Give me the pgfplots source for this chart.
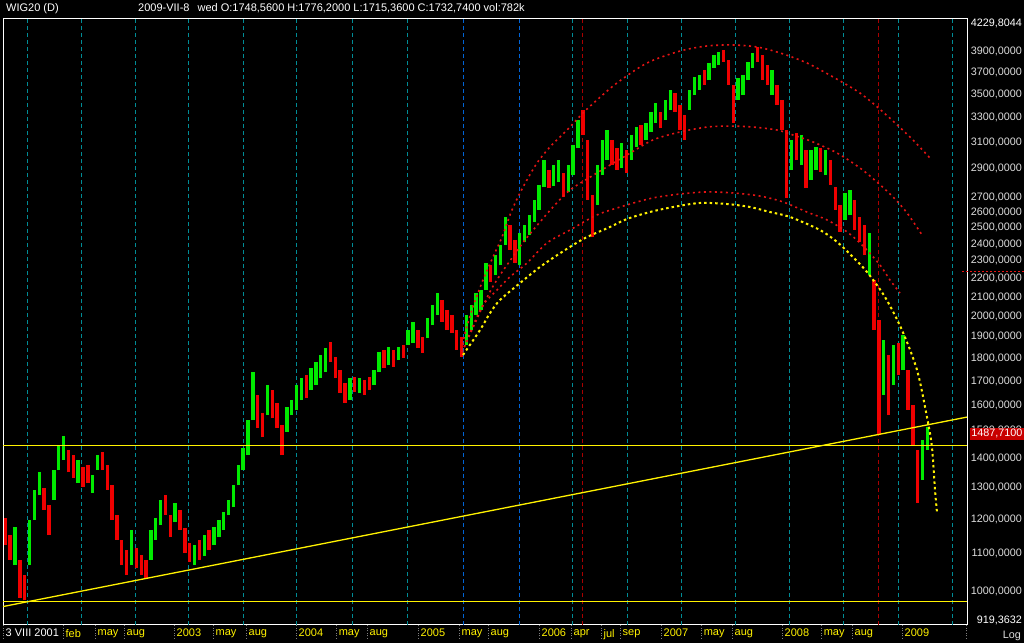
\documentclass[border=0pt]{standalone}
\usepackage{fontspec}
\setmainfont{Liberation Sans}
\usepackage{pgfplots}
\pgfplotsset{compat=1.18}

\definecolor{candleup}{RGB}{0,235,0}
\definecolor{candledn}{RGB}{240,0,0}
\definecolor{gridteal}{RGB}{0,140,150}
\definecolor{gridblue}{RGB}{0,100,215}
\definecolor{gridred}{RGB}{170,0,0}
\definecolor{arcred}{RGB}{230,20,20}
\definecolor{lbl}{RGB}{222,222,222}
\definecolor{boxred}{RGB}{200,0,0}

\pgfplotsset{
  candles/.style={forget plot, line width=3.4pt, unbounded coords=jump, #1},
  vline/.style={forget plot, line width=0.8pt, dash pattern=on 4pt off 3pt, #1},
  arc/.style={forget plot, line width=1.6pt, dash pattern=on 2pt off 3.5pt, smooth, #1},
}

\begin{document}
\begin{tikzpicture}
\useasboundingbox (0pt,0pt) rectangle (1024pt,643pt);
\fill[black] (0pt,0pt) rectangle (1024pt,643pt);
\begin{axis}[
  at={(3pt,18pt)}, anchor=south west,
  scale only axis, width=964pt, height=606pt,
  xmin=2001.591, xmax=2009.536,
  ymode=log, ymin=919.3632, ymax=4229.8044,
  axis line style={white, line width=1pt},
  % --- time axis: labels start right of a dotted grey tick
  xtick pos=bottom, ytick pos=right,
  xtick={2001.591,2002.085,2002.349,2002.588,2003.000,2003.321,2003.594,
         2004.006,2004.336,2004.591,2005.011,2005.349,2005.588,2006.008,
         2006.272,2006.519,2006.676,2007.014,2007.344,2007.599,2008.011,
         2008.333,2008.588,2009.000,2009.53},
  xticklabels={{\color{white}3 VIII 2001},feb,may,aug,2003,may,aug,2004,may,aug,
               2005,may,aug,2006,apr,jul,sep,2007,may,aug,2008,may,aug,2009,{}},
  tick align=outside, major tick length=14pt,
  xtick style={gray, line width=0.7pt, dash pattern=on 1pt off 1.5pt},
  xticklabel style={anchor=north west, text=yellow, inner sep=0pt,
    font=\fontsize{11}{12}\selectfont, xshift=2.5pt, yshift=10pt},
  % --- log price axis on the right
  ytick={1000,1100,1200,1300,1400,1500,1600,1700,1800,1900,2000,2100,2200,
         2300,2400,2500,2600,2700,2900,3100,3300,3500,3700,3900},
  yticklabels={{1000,0000},{1100,0000},{1200,0000},{1300,0000},{1400,0000},
    {1500,0000},{1600,0000},{1700,0000},{1800,0000},{1900,0000},{2000,0000},
    {2100,0000},{2200,0000},{2300,0000},{2400,0000},{2500,0000},{2600,0000},
    {2700,0000},{2900,0000},{3100,0000},{3300,0000},{3500,0000},{3700,0000},
    {3900,0000}},
  yticklabel pos=right, ytick style={draw=none},
  yticklabel style={anchor=east, inner sep=0pt, xshift=41pt, text=lbl,
    font=\fontsize{10.8}{12}\selectfont},
]
% vertical cycle lines
\pgfplotsinvokeforeach{2001.789,2002.234,2002.679,2003.116,2003.569,2004.006,
  2004.467,2004.921,2006.280,2006.734,2007.179,2007.624,2008.069,2008.514,
  2008.967,2009.412}{
  \addplot[vline=gridteal] coordinates {(#1,919.3632) (#1,4229.8044)};
}
\pgfplotsinvokeforeach{2005.382,2005.844}{
  \addplot[vline=gridblue] coordinates {(#1,919.3632) (#1,4229.8044)};
}
\pgfplotsinvokeforeach{2006.363,2008.803}{
  \addplot[vline=gridred] coordinates {(#1,919.3632) (#1,4229.8044)};
}

% WIG20 price bars, low -> high, sampled about every two weeks
% rising bars
\addplot[candles=candleup] coordinates {
(2001.69,1069)(2001.69,1177)(2001.69,nan) (2001.81,1069)(2001.81,1198)(2001.81,nan)
(2001.85,1198)(2001.85,1292)(2001.85,nan) (2001.89,1275)(2001.89,1351)(2001.89,nan)
(2002.01,1259)(2002.01,1358)(2002.01,nan) (2002.05,1358)(2002.05,1447)(2002.05,nan)
(2002.09,1393)(2002.09,1480)(2002.09,nan) (2002.21,1314)(2002.21,1393)(2002.21,nan)
(2002.33,1282)(2002.33,1341)(2002.33,nan) (2002.37,1358)(2002.37,1411)(2002.37,nan)
(2002.65,1069)(2002.65,1168)(2002.65,nan) (2002.81,1083)(2002.81,1168)(2002.81,nan)
(2002.85,1139)(2002.85,1204)(2002.85,nan) (2002.89,1183)(2002.89,1259)(2002.89,nan)
(2003.01,1191)(2003.01,1250)(2003.01,nan) (2003.17,1069)(2003.17,1124)(2003.17,nan)
(2003.25,1094)(2003.25,1153)(2003.25,nan) (2003.33,1124)(2003.33,1177)(2003.33,nan)
(2003.37,1147)(2003.37,1198)(2003.37,nan) (2003.41,1168)(2003.41,1222)(2003.41,nan)
(2003.45,1213)(2003.45,1259)(2003.45,nan) (2003.49,1237)(2003.49,1308)(2003.49,nan)
(2003.53,1308)(2003.53,1375)(2003.53,nan) (2003.57,1358)(2003.57,1436)(2003.57,nan)
(2003.61,1411)(2003.61,1540)(2003.61,nan) (2003.65,1540)(2003.65,1738)(2003.65,nan)
(2003.77,1560)(2003.77,1682)(2003.77,nan) (2003.93,1495)(2003.93,1592)(2003.93,nan)
(2003.97,1560)(2003.97,1620)(2003.97,nan) (2004.01,1580)(2004.01,1682)(2004.01,nan)
(2004.05,1620)(2004.05,1712)(2004.05,nan) (2004.13,1661)(2004.13,1756)(2004.13,nan)
(2004.17,1682)(2004.17,1783)(2004.17,nan) (2004.21,1712)(2004.21,1815)(2004.21,nan)
(2004.25,1738)(2004.25,1847)(2004.25,nan) (2004.45,1620)(2004.45,1712)(2004.45,nan)
(2004.53,1649)(2004.53,1712)(2004.53,nan) (2004.65,1682)(2004.65,1747)(2004.65,nan)
(2004.69,1738)(2004.69,1828)(2004.69,nan) (2004.77,1769)(2004.77,1851)(2004.77,nan)
(2004.85,1792)(2004.85,1851)(2004.85,nan) (2004.93,1861)(2004.93,1932)(2004.93,nan)
(2004.97,1870)(2004.97,1972)(2004.97,nan) (2005.09,1894)(2005.09,1992)(2005.09,nan)
(2005.13,1957)(2005.13,2058)(2005.13,nan) (2005.17,2007)(2005.17,2121)(2005.17,nan)
(2005.41,1861)(2005.41,2007)(2005.41,nan) (2005.45,1932)(2005.45,2058)(2005.45,nan)
(2005.49,2007)(2005.49,2121)(2005.49,nan) (2005.53,2032)(2005.53,2137)(2005.53,nan)
(2005.57,2137)(2005.57,2288)(2005.57,nan) (2005.65,2220)(2005.65,2334)(2005.65,nan)
(2005.69,2276)(2005.69,2394)(2005.69,nan) (2005.73,2394)(2005.73,2569)(2005.73,nan)
(2005.85,2276)(2005.85,2467)(2005.85,nan) (2005.89,2412)(2005.89,2518)(2005.89,nan)
(2005.93,2455)(2005.93,2582)(2005.93,nan) (2005.97,2537)(2005.97,2681)(2005.97,nan)
(2006.01,2615)(2006.01,2784)(2006.01,nan) (2006.05,2770)(2006.05,2965)(2006.05,nan)
(2006.13,2777)(2006.13,2928)(2006.13,nan) (2006.17,2805)(2006.17,2965)(2006.17,nan)
(2006.25,2736)(2006.25,2928)(2006.25,nan) (2006.29,2855)(2006.29,3080)(2006.29,nan)
(2006.33,3056)(2006.33,3280)(2006.33,nan) (2006.49,2648)(2006.49,2928)(2006.49,nan)
(2006.53,2855)(2006.53,3119)(2006.53,nan) (2006.57,2965)(2006.57,3198)(2006.57,nan)
(2006.69,2906)(2006.69,3095)(2006.69,nan) (2006.77,2965)(2006.77,3158)(2006.77,nan)
(2006.81,3064)(2006.81,3222)(2006.81,nan) (2006.89,3119)(2006.89,3255)(2006.89,nan)
(2006.93,3182)(2006.93,3346)(2006.93,nan) (2006.97,3255)(2006.97,3423)(2006.97,nan)
(2007.05,3280)(2007.05,3449)(2007.05,nan) (2007.09,3363)(2007.09,3537)(2007.09,nan)
(2007.25,3363)(2007.25,3537)(2007.25,nan) (2007.29,3493)(2007.29,3655)(2007.29,nan)
(2007.33,3537)(2007.33,3673)(2007.33,nan) (2007.41,3627)(2007.41,3786)(2007.41,nan)
(2007.45,3739)(2007.45,3863)(2007.45,nan) (2007.49,3767)(2007.49,3892)(2007.49,nan)
(2007.65,3449)(2007.65,3646)(2007.65,nan) (2007.69,3493)(2007.69,3673)(2007.69,nan)
(2007.73,3627)(2007.73,3796)(2007.73,nan) (2007.77,3739)(2007.77,3883)(2007.77,nan)
(2007.93,3493)(2007.93,3720)(2007.93,nan) (2008.09,2892)(2008.09,3119)(2008.09,nan)
(2008.17,2928)(2008.17,3158)(2008.17,nan) (2008.25,2820)(2008.25,3041)(2008.25,nan)
(2008.29,2892)(2008.29,3064)(2008.29,nan) (2008.37,2855)(2008.37,3041)(2008.37,nan)
(2008.53,2550)(2008.53,2729)(2008.53,nan) (2008.57,2582)(2008.57,2750)(2008.57,nan)
(2008.73,2220)(2008.73,2467)(2008.73,nan) (2008.85,1641)(2008.85,1884)(2008.85,nan)
(2008.93,1682)(2008.93,1861)(2008.93,nan) (2009.01,1747)(2009.01,1908)(2009.01,nan)
(2009.17,1325)(2009.17,1465)(2009.17,nan) (2009.21,1428)(2009.21,1514)(2009.21,nan)
};
% falling bars
\addplot[candles=candledn] coordinates {
(2001.61,1124)(2001.61,1204)(2001.61,nan) (2001.65,1083)(2001.65,1153)(2001.65,nan)
(2001.73,984)(2001.73,1083)(2001.73,nan) (2001.77,979)(2001.77,1043)(2001.77,nan)
(2001.93,1228)(2001.93,1298)(2001.93,nan) (2001.97,1153)(2001.97,1244)(2001.97,nan)
(2002.13,1351)(2002.13,1428)(2002.13,nan) (2002.17,1331)(2002.17,1411)(2002.17,nan)
(2002.25,1301)(2002.25,1369)(2002.25,nan) (2002.29,1314)(2002.29,1375)(2002.29,nan)
(2002.41,1358)(2002.41,1421)(2002.41,nan) (2002.45,1292)(2002.45,1375)(2002.45,nan)
(2002.49,1198)(2002.49,1308)(2002.49,nan) (2002.53,1139)(2002.53,1213)(2002.53,nan)
(2002.57,1069)(2002.57,1139)(2002.57,nan) (2002.61,1043)(2002.61,1110)(2002.61,nan)
(2002.69,1061)(2002.69,1116)(2002.69,nan) (2002.73,1043)(2002.73,1096)(2002.73,nan)
(2002.77,1035)(2002.77,1083)(2002.77,nan) (2002.93,1213)(2002.93,1275)(2002.93,nan)
(2002.97,1147)(2002.97,1213)(2002.97,nan) (2003.05,1168)(2003.05,1228)(2003.05,nan)
(2003.09,1102)(2003.09,1174)(2003.09,nan) (2003.13,1077)(2003.13,1130)(2003.13,nan)
(2003.21,1083)(2003.21,1139)(2003.21,nan) (2003.29,1110)(2003.29,1168)(2003.29,nan)
(2003.69,1510)(2003.69,1641)(2003.69,nan) (2003.73,1476)(2003.73,1568)(2003.73,nan)
(2003.81,1548)(2003.81,1661)(2003.81,nan) (2003.85,1510)(2003.85,1608)(2003.85,nan)
(2003.89,1411)(2003.89,1521)(2003.89,nan) (2004.09,1628)(2004.09,1725)(2004.09,nan)
(2004.29,1783)(2004.29,1875)(2004.29,nan) (2004.33,1712)(2004.33,1806)(2004.33,nan)
(2004.37,1649)(2004.37,1747)(2004.37,nan) (2004.41,1608)(2004.41,1691)(2004.41,nan)
(2004.49,1653)(2004.49,1717)(2004.49,nan) (2004.57,1641)(2004.57,1704)(2004.57,nan)
(2004.61,1661)(2004.61,1717)(2004.61,nan) (2004.73,1756)(2004.73,1838)(2004.73,nan)
(2004.81,1760)(2004.81,1838)(2004.81,nan) (2004.89,1801)(2004.89,1861)(2004.89,nan)
(2005.01,1847)(2005.01,1932)(2005.01,nan) (2005.05,1824)(2005.05,1899)(2005.05,nan)
(2005.21,1972)(2005.21,2084)(2005.21,nan) (2005.25,1932)(2005.25,2032)(2005.25,nan)
(2005.29,1918)(2005.29,2007)(2005.29,nan) (2005.33,1838)(2005.33,1932)(2005.33,nan)
(2005.37,1806)(2005.37,1899)(2005.37,nan) (2005.61,2181)(2005.61,2276)(2005.61,nan)
(2005.77,2364)(2005.77,2518)(2005.77,nan) (2005.81,2288)(2005.81,2424)(2005.81,nan)
(2006.09,2763)(2006.09,2892)(2006.09,nan) (2006.21,2701)(2006.21,2870)(2006.21,nan)
(2006.37,3158)(2006.37,3363)(2006.37,nan) (2006.41,2681)(2006.41,3119)(2006.41,nan)
(2006.45,2443)(2006.45,2715)(2006.45,nan) (2006.61,2928)(2006.61,3119)(2006.61,nan)
(2006.65,2892)(2006.65,3056)(2006.65,nan) (2006.73,2870)(2006.73,3041)(2006.73,nan)
(2006.85,3080)(2006.85,3239)(2006.85,nan) (2007.01,3214)(2007.01,3346)(2007.01,nan)
(2007.13,3346)(2007.13,3510)(2007.13,nan) (2007.17,3198)(2007.17,3406)(2007.17,nan)
(2007.21,3119)(2007.21,3321)(2007.21,nan) (2007.37,3582)(2007.37,3720)(2007.37,nan)
(2007.53,3796)(2007.53,3912)(2007.53,nan) (2007.57,3582)(2007.57,3815)(2007.57,nan)
(2007.61,3255)(2007.61,3582)(2007.61,nan) (2007.81,3796)(2007.81,3942)(2007.81,nan)
(2007.85,3627)(2007.85,3863)(2007.85,nan) (2007.89,3582)(2007.89,3767)(2007.89,nan)
(2007.97,3406)(2007.97,3582)(2007.97,nan) (2008.01,3198)(2008.01,3449)(2008.01,nan)
(2008.05,2695)(2008.05,3198)(2008.05,nan) (2008.13,2965)(2008.13,3174)(2008.13,nan)
(2008.21,2763)(2008.21,3041)(2008.21,nan) (2008.33,2877)(2008.33,3056)(2008.33,nan)
(2008.41,2784)(2008.41,2965)(2008.41,nan) (2008.45,2615)(2008.45,2770)(2008.45,nan)
(2008.49,2474)(2008.49,2648)(2008.49,nan) (2008.61,2486)(2008.61,2681)(2008.61,nan)
(2008.65,2412)(2008.65,2569)(2008.65,nan) (2008.69,2334)(2008.69,2518)(2008.69,nan)
(2008.77,1932)(2008.77,2192)(2008.77,nan) (2008.81,1483)(2008.81,1982)(2008.81,nan)
(2008.89,1560)(2008.89,1815)(2008.89,nan) (2008.97,1725)(2008.97,1870)(2008.97,nan)
(2009.05,1580)(2009.05,1747)(2009.05,nan) (2009.09,1447)(2009.09,1600)(2009.09,nan)
(2009.13,1250)(2009.13,1428)(2009.13,nan)
};

% support / trend lines
\addplot[yellow, line width=1.3pt, forget plot] coordinates {(2001.591,976) (2009.536,976)};
\addplot[yellow, line width=1.3pt, forget plot] coordinates {(2001.591,1444) (2009.536,1444)};
\addplot[yellow, line width=1.3pt, forget plot] coordinates {(2001.591,963) (2009.536,1552)};

% red arcs
\addplot[arc=arcred] coordinates {
(2005.374,1838) (2005.399,1918) (2005.464,2048) (2005.547,2192) (2005.629,2322)
(2005.704,2443) (2005.786,2615) (2005.877,2770) (2005.992,2943) (2006.099,3064)
(2006.239,3198) (2006.371,3338) (2006.486,3449) (2006.651,3600) (2006.899,3786)
(2007.171,3902) (2007.393,3952) (2007.607,3962) (2007.805,3942) (2007.995,3883)
(2008.217,3786) (2008.432,3655) (2008.654,3510) (2008.844,3346) (2009.066,3142)
(2009.231,2980)};
\addplot[arc=arcred] coordinates {
(2005.374,1828) (2005.456,1932) (2005.539,2043) (2005.621,2148) (2005.704,2236)
(2005.786,2317) (2005.893,2424) (2006.017,2537) (2006.140,2648) (2006.264,2750)
(2006.486,2870) (2006.734,3003) (2006.948,3119) (2007.171,3182) (2007.393,3222)
(2007.583,3230) (2007.772,3222) (2007.970,3198) (2008.102,3158) (2008.267,3103)
(2008.465,3018) (2008.654,2906) (2008.794,2805) (2008.926,2702) (2009.042,2595)
(2009.165,2455)};
\addplot[arc=arcred] coordinates {
(2005.374,1828) (2005.456,1942) (2005.547,2058) (2005.662,2137) (2005.769,2209)
(2005.910,2288) (2006.074,2406) (2006.264,2486) (2006.486,2582) (2006.734,2648)
(2006.948,2695) (2007.171,2722) (2007.393,2736) (2007.607,2729) (2007.830,2708)
(2008.020,2668) (2008.217,2601) (2008.382,2550) (2008.547,2474) (2008.679,2388)
(2008.819,2276) (2008.901,2192) (2008.984,2121)};
% yellow arc
\addplot[arc=yellow, line width=2pt, dash pattern=on 2.5pt off 3pt] coordinates {
(2005.382,1815) (2005.522,1932) (2005.605,2017) (2005.687,2084) (2005.852,2175)
(2006.017,2265) (2006.198,2352) (2006.388,2436) (2006.594,2505) (2006.734,2556)
(2006.923,2601) (2007.113,2634) (2007.335,2661) (2007.558,2654) (2007.748,2634)
(2007.912,2601) (2008.077,2569) (2008.324,2486) (2008.465,2412) (2008.596,2322)
(2008.712,2236) (2008.860,2100) (2009.000,1932) (2009.124,1747) (2009.206,1552)
(2009.247,1439) (2009.272,1292) (2009.289,1219)};

\coordinate (lastpx) at (axis cs:2009.536,1487.71);
\coordinate (topr) at (rel axis cs:1,1);
\coordinate (botr) at (rel axis cs:1,0);
\end{axis}

% header
\node[anchor=base west, inner sep=0pt, text=white, font=\fontsize{11}{12}\selectfont] at (6pt,631pt) {WIG20 (D)};
\node[anchor=base west, inner sep=0pt, text=white, font=\fontsize{11}{12}\selectfont] at (138pt,631pt)
  {2009-VII-8\hspace{8pt}wed O:1748,5600 H:1776,2000 L:1715,3600 C:1732,7400 vol:782k};
% right scale extras
\node[anchor=east, inner sep=0pt, text=white, font=\fontsize{10.8}{12}\selectfont] at ([xshift=55pt,yshift=-4pt]topr) {4229,8044};
\node[anchor=east, inner sep=0pt, text=white, font=\fontsize{10.8}{12}\selectfont] at ([xshift=55pt,yshift=5pt]botr) {919,3632};
\node[anchor=east, fill=boxred, text=white, inner xsep=1.5pt, inner ysep=1.5pt, font=\fontsize{10.8}{12}\selectfont] at ([xshift=57pt]lastpx) {1487,7100};
\draw[arcred, line width=1pt, dash pattern=on 2pt off 2pt] (962pt,371pt) -- (1024pt,371pt);
\node[anchor=base east, inner sep=0pt, text=lbl, font=\fontsize{10.8}{12}\selectfont] at (1021pt,5pt) {Log};
\end{tikzpicture}
\end{document}
